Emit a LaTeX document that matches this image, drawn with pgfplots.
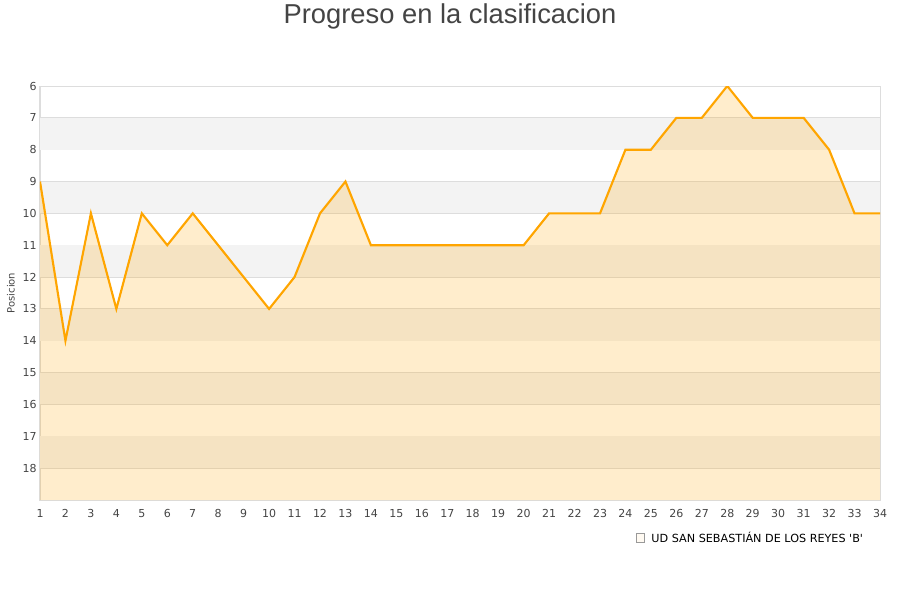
\documentclass[border=0pt]{standalone}
\usepackage{fontspec}
\setmainfont{DejaVu Sans}
\newfontfamily\titlefont{Liberation Sans}
\usepackage{pgfplots}
\pgfplotsset{compat=1.18}

\definecolor{txt}{HTML}{444444}
\definecolor{gridc}{HTML}{DDDDDD}
\definecolor{bandc}{HTML}{F3F3F3}
\definecolor{linec}{HTML}{FFA500}

\begin{document}
\begin{tikzpicture}
	\path[use as bounding box] (0pt,0pt) rectangle (675pt,450pt);
	\node[font=\titlefont\fontsize{20.5}{23}\selectfont, text=txt] at (337.5pt,438pt) {Progreso en la clasificacion};
	\begin{axis}[
		at={(30pt,75pt)}, anchor=south west,
		scale only axis,
		width=630pt, height=310.5pt,
		xmin=1, xmax=34,
		ymin=6, ymax=19,
		y dir=reverse,
		xtick={1,...,34},
		ytick={6,...,18},
		ymajorgrids=true,
		grid style={gridc, line width=0.75pt},
		axis line style={gridc, line width=0.75pt},
		major tick length=0pt,
		tick label style={font=\fontsize{8.25}{10}\selectfont, text=txt},
		xticklabel style={yshift=-3.5pt},
		yticklabel style={xshift=1pt},
		/pgf/number format/assume math mode=true,
		ylabel={Posicion},
		ylabel style={font=\fontsize{7.5}{9}\selectfont, text=txt, yshift=-1pt},
		legend style={at={(0.704,-0.092)}, anchor=west, draw=none, fill=none,
			font=\fontsize{8.4}{10}\selectfont},
		legend cell align=left,
		legend image code/.code={
			\draw[fill=linec!25, draw=gray!80, line width=0.5pt] (0pt,-3.2pt) rectangle (6.4pt,3.2pt);
		},
	]
		% alternating background bands
		\fill[bandc] (axis cs:1,7) rectangle (axis cs:34,8);
		\fill[bandc] (axis cs:1,9) rectangle (axis cs:34,10);
		\fill[bandc] (axis cs:1,11) rectangle (axis cs:34,12);
		\fill[bandc] (axis cs:1,13) rectangle (axis cs:34,14);
		\fill[bandc] (axis cs:1,15) rectangle (axis cs:34,16);
		\fill[bandc] (axis cs:1,17) rectangle (axis cs:34,18);

		% area down to the bottom of the axis (19)
		\addplot[fill=linec, fill opacity=0.2, draw=none] coordinates {
			(1,19)
			(1,9) (2,14) (3,10) (4,13) (5,10) (6,11) (7,10) (8,11) (9,12) (10,13)
			(11,12) (12,10) (13,9) (14,11) (15,11) (16,11) (17,11) (18,11) (19,11) (20,11)
			(21,10) (22,10) (23,10) (24,8) (25,8) (26,7) (27,7) (28,6) (29,7) (30,7)
			(31,7) (32,8) (33,10) (34,10)
			(34,19)
		} -- cycle;
		\addlegendentry{\hspace{3pt}UD SAN SEBASTIÁN DE LOS REYES \textquotesingle B\textquotesingle}

		\addplot[linec, line width=1.6pt, forget plot] coordinates {
			(1,9) (2,14) (3,10) (4,13) (5,10) (6,11) (7,10) (8,11) (9,12) (10,13)
			(11,12) (12,10) (13,9) (14,11) (15,11) (16,11) (17,11) (18,11) (19,11) (20,11)
			(21,10) (22,10) (23,10) (24,8) (25,8) (26,7) (27,7) (28,6) (29,7) (30,7)
			(31,7) (32,8) (33,10) (34,10)
		};
	\end{axis}
\end{tikzpicture}
\end{document}
